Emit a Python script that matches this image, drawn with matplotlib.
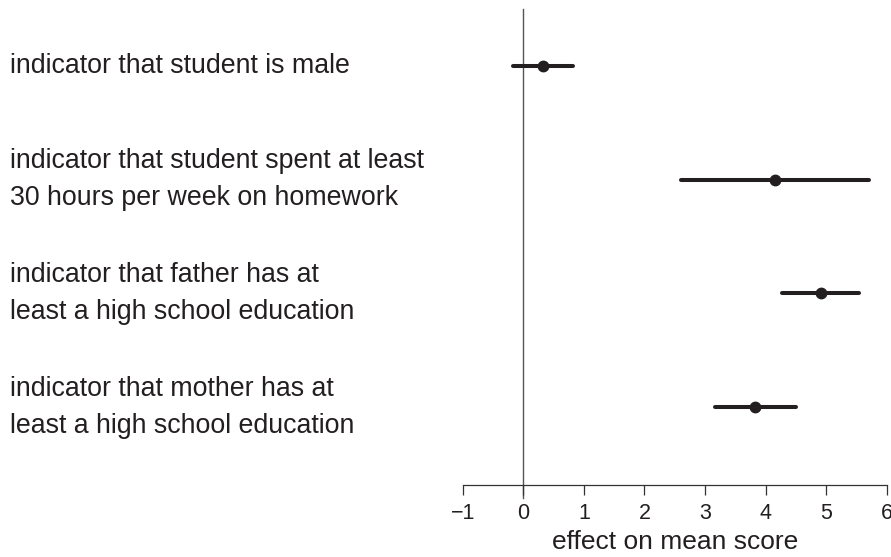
import matplotlib
matplotlib.use("Agg")
import matplotlib.pyplot as plt
import matplotlib.transforms as mtransforms

plt.rcParams['font.family'] = ['Liberation Sans', 'DejaVu Sans']

labels = [
    "indicator that student is male",
    "indicator that student spent at least\n30 hours per week on homework",
    "indicator that father has at\nleast a high school education",
    "indicator that mother has at\nleast a high school education",
]
estimates = [0.32, 4.15, 4.91, 3.82]
lower = [-0.165, 2.61, 4.27, 3.17]
upper = [0.815, 5.71, 5.54, 4.50]
xticks = [-1, 0, 1, 2, 3, 4, 5, 6]

W, H = 891, 557
fig = plt.figure(figsize=(W / 100, H / 100), dpi=100)
left, right = 462.7 / W, 886.7 / W
bottom, top = 1 - 485 / H, 1 - 9 / H
ax = fig.add_axes([left, bottom, right - left, top - bottom])

col = '#231f20'
rows = list(range(len(labels)))
for y, e, lo, hi in zip(rows, estimates, lower, upper):
    ax.plot([lo, hi], [y, y], color=col, lw=2.9, solid_capstyle='round', zorder=3)
    ax.plot([e], [y], 'o', color=col, ms=7.5, zorder=4)

ax.axvline(0, ymin=-13 / 476, ymax=1, color='#555555', lw=1.0, clip_on=False, zorder=1)

ax.set_xlim(-1, 6)
ax.set_ylim(3.686, -0.501)
ax.set_xticks(xticks)
ax.set_xticklabels(["\u22121" if t < 0 else str(t) for t in xticks])
ax.set_yticks([])
for s in ['top', 'right', 'left']:
    ax.spines[s].set_visible(False)
ax.spines['bottom'].set_color('#333333')
ax.spines['bottom'].set_linewidth(0.9)
ax.tick_params(axis='x', length=7, width=0.9, color='#333333', labelsize=15.5,
               labelcolor='#231f20', pad=6)
ax.set_xlabel("effect on mean score", fontsize=19.0, color='#231f20', labelpad=4)

trans = mtransforms.blended_transform_factory(fig.transFigure, ax.transData)
for y, lab in zip(rows, labels):
    ax.text(10 / W, y, lab, transform=trans, ha='left', va='center',
            fontsize=19.3, color='#231f20', linespacing=1.55)

fig.savefig("out.png", dpi=100)
